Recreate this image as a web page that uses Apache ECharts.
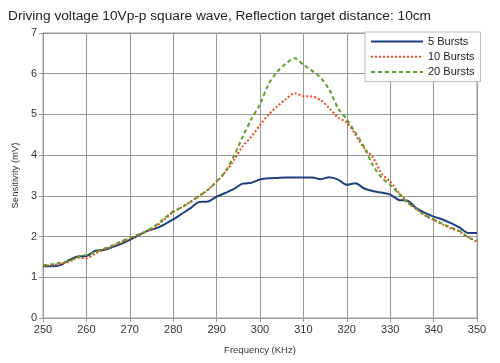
<!DOCTYPE html>
<html><head><meta charset="utf-8">
<script src="https://cdn.jsdelivr.net/npm/echarts@6/dist/echarts.min.js"></script>
<style>html,body{margin:0;padding:0;background:#fff}#c{width:500px;height:363px}</style>
</head><body><div id="c"></div>
<script>
const titleText = "Driving voltage 10Vp-p square wave, Reflection target distance: 10cm";
const seriesNames = ["5 Bursts", "10 Bursts", "20 Bursts"];
const freqs = [250,252,254,256,258,260,262,264,266,268,270,272,274,276,278,280,282,284,286,288,290,292,294,296,298,300,302,304,306,308,310,312,314,316,318,320,322,324,326,328,330,332,334,336,338,340,342,344,346,348,350];
const bursts5 = [1.27,1.27,1.30,1.42,1.51,1.52,1.65,1.67,1.74,1.82,1.92,2.03,2.14,2.20,2.30,2.42,2.56,2.70,2.85,2.86,2.98,3.07,3.17,3.30,3.32,3.40,3.43,3.44,3.45,3.45,3.45,3.45,3.41,3.46,3.40,3.27,3.31,3.18,3.12,3.08,3.03,2.90,2.88,2.70,2.58,2.49,2.42,2.33,2.22,2.09,2.09];
const bursts10 = [1.27,1.30,1.33,1.38,1.48,1.47,1.58,1.68,1.76,1.86,1.95,2.04,2.13,2.25,2.42,2.60,2.72,2.86,3.00,3.15,3.35,3.58,3.88,4.22,4.45,4.74,5.00,5.20,5.38,5.52,5.45,5.44,5.35,5.15,4.92,4.80,4.50,4.17,3.95,3.55,3.35,3.08,2.85,2.68,2.52,2.41,2.30,2.20,2.12,1.98,1.87];
const bursts20 = [1.30,1.32,1.36,1.40,1.50,1.55,1.62,1.70,1.78,1.88,1.97,2.05,2.14,2.28,2.45,2.62,2.72,2.85,3.00,3.15,3.35,3.60,3.98,4.45,4.88,5.25,5.75,6.05,6.25,6.38,6.22,6.07,5.90,5.60,5.15,4.88,4.55,4.20,3.75,3.45,3.27,3.05,2.83,2.68,2.52,2.42,2.32,2.22,2.14,1.98,1.90];
const xTicks = {min:250, max:350, interval:10};
const yTicks = {min:0, max:7, interval:1};

const pair = arr => freqs.map((f,i)=>[f,arr[i]]);
const chart = echarts.init(document.getElementById('c'), null, {renderer:'canvas'});
const font = 'Liberation Sans, Arial, sans-serif';
chart.setOption({
  animation:false,
  backgroundColor:'#fff',
  title:{text:titleText,left:3,top:4,textStyle:{fontFamily:font,fontSize:13.7,fontWeight:'normal',color:'#222'}},
  grid:{left:43,right:23,top:33,bottom:45,show:true,borderColor:'#999',borderWidth:1},
  legend:{orient:'vertical',left:365,top:32,padding:[4,6,4,5],itemWidth:52,itemHeight:14,itemGap:4,
    backgroundColor:'#fff',borderColor:'#bbb',borderWidth:1,
    itemStyle:{opacity:0},
    textStyle:{fontFamily:font,fontSize:11,color:'#222'},data:seriesNames},
  xAxis:{type:'value',min:xTicks.min,max:xTicks.max,interval:xTicks.interval,
    name:'Frequency (KHz)',nameLocation:'middle',nameGap:27,
    nameTextStyle:{fontFamily:font,fontSize:9.5,color:'#333'},
    axisLine:{lineStyle:{color:'#999'}},axisTick:{show:true,length:4,lineStyle:{color:'#999'}},
    axisLabel:{fontFamily:font,fontSize:11,color:'#333',margin:6},
    splitLine:{show:true,lineStyle:{color:'#999',width:1}}},
  yAxis:{type:'value',min:yTicks.min,max:yTicks.max,interval:yTicks.interval,
    name:'Sensitivity (mV)',nameLocation:'middle',nameGap:21,
    nameTextStyle:{fontFamily:font,fontSize:9.5,color:'#333'},
    axisLine:{show:true,lineStyle:{color:'#999'}},axisTick:{show:true,length:4,lineStyle:{color:'#999'}},
    axisLabel:{fontFamily:font,fontSize:11,color:'#333',margin:6},
    splitLine:{show:true,lineStyle:{color:'#999',width:1}}},
  series:[
    {name:seriesNames[0],type:'line',data:pair(bursts5),symbol:'none',smooth:0.3,
     lineStyle:{color:'#1d4080',width:2},itemStyle:{color:'#1d4080'}},
    {name:seriesNames[1],type:'line',data:pair(bursts10),symbol:'none',smooth:0.3,
     lineStyle:{color:'#f04a1a',width:2,type:[2,2]},itemStyle:{color:'#f04a1a'}},
    {name:seriesNames[2],type:'line',data:pair(bursts20),symbol:'none',smooth:0.3,
     lineStyle:{color:'#5e9e2a',width:2,type:[4,3]},itemStyle:{color:'#5e9e2a'}}
  ]
});
</script></body></html>
